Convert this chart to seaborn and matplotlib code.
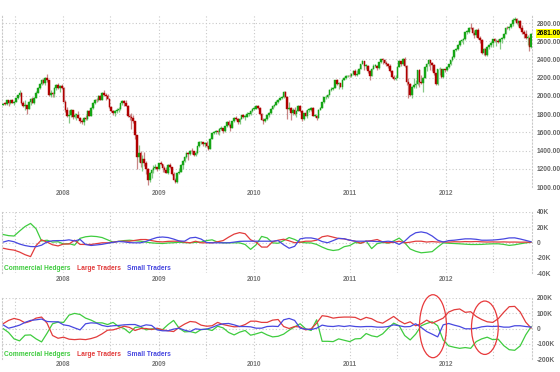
import numpy as np
import pandas as pd
import matplotlib
matplotlib.use("Agg")
import matplotlib.pyplot as plt
import matplotlib.dates as mdates
from matplotlib.patches import Ellipse
import seaborn as sns

# weekly candles, May 2007 - Nov 2012 (open = previous close)
first_open = 1905
close_2007 = [1915,1910,1950,1920,1955,1925,1934,1975,2010,2030,1925,1890,1900,1860,1935,1965,1925,1980,2035,2090,
              2135,2170,2140,2200,2170,2010,2030,2020,2085,2125,2085,2110,2090]
high_2007 = [1925,1930,1955,1960,1960,1965,1945,1980,2015,2060,2040,1945,1950,1905,1940,1975,1985,1985,2050,2095,
             2140,2185,2190,2210,2240,2175,2060,2040,2100,2135,2145,2120,2130]
low_2007 = [1895,1895,1905,1890,1915,1920,1905,1930,1965,2000,1915,1880,1850,1800,1855,1900,1920,1915,1975,2030,
            2080,2125,2135,2120,2150,2000,1990,1990,1990,2070,2080,2040,2080]

close_2008 = [1935,1850,1780,1795,1840,1770,1790,1790,1760,1720,1710,1760,1745,1830,1780,1870,1925,1960,1950,2000,
              1960,2035,2010,1995,1970,1880,1830,1815,1830,1840,1860,1920,1945,1920,1890,1780,1770,1760,1720,1570,
              1330,1370,1260,1305,1265,1200,1080,1155,1190,1205,1215,1200]
high_2008 = [2095,1950,1880,1840,1860,1845,1810,1805,1830,1770,1750,1770,1790,1840,1845,1875,1930,1970,1975,2010,
             2015,2040,2065,2030,2020,1975,1890,1850,1850,1870,1880,1925,1955,1950,1950,1895,1800,1810,1790,1725,
             1575,1460,1400,1350,1380,1290,1205,1160,1200,1240,1250,1225]
low_2008 = [1930,1820,1770,1700,1770,1750,1760,1740,1755,1700,1690,1680,1740,1740,1775,1775,1860,1915,1935,1945,
            1955,1955,2000,1960,1965,1870,1820,1790,1780,1810,1820,1840,1905,1890,1885,1770,1740,1640,1700,1530,
            1200,1270,1220,1180,1230,1140,1020,1060,1100,1150,1195,1180]

close_2009 = [1260,1250,1210,1185,1155,1240,1220,1145,1080,1050,1150,1170,1240,1290,1330,1370,1360,1400,1390,1355,
              1370,1445,1490,1490,1475,1485,1450,1420,1530,1590,1600,1610,1600,1640,1645,1610,1665,1715,1680,1650,
              1720,1755,1745,1715,1750,1790,1770,1770,1800,1800,1830,1860]
high_2009 = [1265,1290,1255,1230,1215,1250,1260,1225,1170,1100,1155,1210,1250,1300,1335,1380,1385,1410,1425,1400,
             1395,1450,1500,1505,1495,1495,1500,1455,1535,1595,1615,1625,1625,1645,1665,1650,1670,1725,1730,1700,
             1725,1770,1775,1760,1755,1795,1800,1790,1820,1815,1840,1865]
low_2009 = [1195,1240,1165,1160,1150,1140,1205,1135,1075,1040,1045,1140,1165,1200,1270,1320,1300,1350,1360,1340,
            1345,1360,1440,1470,1450,1440,1440,1405,1415,1525,1580,1585,1585,1570,1630,1590,1605,1660,1670,1620,
            1645,1715,1730,1690,1690,1745,1755,1730,1765,1780,1795,1825]

close_2010 = [1860,1890,1870,1800,1740,1720,1750,1790,1815,1860,1890,1900,1935,1960,1975,1985,2040,1990,1855,1870,
              1810,1840,1805,1835,1890,1835,1750,1810,1780,1845,1850,1870,1780,1780,1760,1850,1870,1930,1985,1990,
              2010,2070,2080,2090,2170,2130,2140,2100,2180,2200,2215,2220,2215]
high_2010 = [1885,1900,1905,1880,1810,1760,1760,1800,1820,1865,1895,1910,1950,1965,1985,2000,2050,2050,2000,1930,
             1880,1870,1880,1840,1900,1895,1840,1815,1850,1850,1870,1880,1875,1800,1790,1855,1880,1935,1990,2010,
             2020,2080,2095,2100,2180,2190,2150,2145,2185,2210,2225,2230,2235]
low_2010 = [1850,1855,1860,1790,1730,1690,1710,1740,1770,1805,1855,1880,1895,1925,1950,1965,1975,1985,1750,1845,
            1740,1790,1795,1770,1830,1825,1720,1740,1775,1760,1820,1835,1775,1765,1735,1755,1845,1865,1920,1965,
            1975,2005,2050,2060,2085,2120,2080,2095,2080,2170,2190,2205,2205]

close_2011 = [2240,2275,2230,2240,2300,2350,2380,2330,2330,2270,2220,2300,2330,2330,2310,2370,2400,2390,2360,2350,
              2330,2270,2210,2190,2200,2320,2380,2350,2410,2330,2150,2130,2010,2100,2120,2130,2280,2150,2140,2200,
              2320,2350,2390,2360,2340,2250,2130,2290,2290,2210,2290,2280]
high_2011 = [2255,2280,2290,2280,2305,2355,2390,2385,2350,2335,2285,2305,2345,2350,2340,2375,2410,2420,2400,2380,
             2360,2350,2280,2230,2230,2325,2395,2385,2420,2430,2340,2200,2140,2105,2200,2170,2285,2290,2230,2210,
             2325,2360,2410,2395,2370,2350,2255,2300,2320,2295,2295,2300]
low_2011 = [2210,2230,2215,2220,2235,2295,2345,2280,2290,2250,2180,2215,2295,2315,2280,2290,2365,2350,2345,2330,
            2310,2260,2200,2170,2170,2195,2315,2330,2340,2320,2120,1980,2000,1980,2090,2090,2120,2100,2135,2040,
            2195,2270,2330,2280,2270,2230,2125,2125,2230,2200,2200,2265]

close_2012 = [2320,2350,2390,2430,2500,2520,2560,2600,2610,2620,2700,2700,2750,2740,2690,2670,2720,2640,2610,2470,
              2510,2450,2540,2560,2580,2620,2600,2600,2590,2620,2640,2680,2750,2740,2760,2790,2830,2840,2800,2820,
              2740,2700,2680,2640,2640,2540,2681]
high_2012 = [2330,2355,2395,2440,2505,2530,2570,2610,2620,2640,2705,2720,2755,2795,2760,2720,2730,2740,2660,2620,
             2525,2530,2550,2575,2600,2625,2640,2620,2630,2630,2650,2690,2755,2770,2770,2800,2850,2870,2850,2830,
             2830,2780,2720,2720,2670,2645,2685]
low_2012 = [2270,2310,2340,2380,2420,2490,2500,2550,2590,2570,2615,2680,2690,2730,2670,2640,2650,2630,2580,2460,
            2445,2440,2440,2510,2540,2540,2590,2550,2580,2520,2580,2630,2675,2730,2720,2740,2770,2820,2790,2770,
            2730,2680,2640,2630,2560,2490,2530]

close = close_2007 + close_2008 + close_2009 + close_2010 + close_2011 + close_2012
high = high_2007 + high_2008 + high_2009 + high_2010 + high_2011 + high_2012
low = low_2007 + low_2008 + low_2009 + low_2010 + low_2011 + low_2012
last_price = 2681.00

# COT net positions, sampled every 3rd week (thousands of contracts)
mid_green = [10.5,9,8.5,15,21,25,18,2,3,0.5, 1,-2,-1.5,-3.5,5.5,7.5,8.3,7.8,6.5,3.5,
             0.5,1.5,2.5,3,2.3,1.7,0.5,-0.5,-1,-1.3, -0.6,-0.3,0.3,-0.2,-0.4,0.2,0.6,2.5,3.5,0.5,
             -0.4,-0.4,-0.4,-0.5,-2.6,-9,-3,8,6,-0.5, -1,2.5,6.5,4,0.4,-0.4,-0.6,-2.5,-6,-9,
             -10.5,-9.5,-5.5,-4,0,-1,2,-8,-1.5,0, -0.8,2,5.8,-0.4,-8.5,-11.5,-13.5,-12.8,-12,-6,
             -0.5,-1,-1.3,-1.7,-2.2,-2.6,-2.6,-2.5,-2,-1.7, -1.7,-2.5,-3.8,-3,-1.7,-0.5,0.4]
mid_red = [-7.5,-9,-10,-12.5,-16,-18.5,-4,3.5,0.5,-3, -4.5,-2,-2,3,-2.5,-2.6,-2.6,-1.5,-0.4,-0.4,
           0.4,1.5,1.7,1.7,2.8,3.9,3.9,2.5,1.2,0.8, 1.5,1.7,1.7,0.5,-0.4,1.7,-0.4,-0.4,-0.4,1,
           2.5,7,11,13,11.5,3.5,0.5,-6,-6,1, 3,4.3,2.2,-0.3,0.4,1.7,1.7,3,7.5,8.8,
           7,5.2,4.8,3,1.7,-1,1.7,2.5,3.9,0.8, -0.3,0.2,1.7,-0.4,0.4,1.7,1.7,0.6,1.2,0.6,
           0.8,0.5,1.0,0.8,1.2,1.0,1.3,0.9,0.6,0.8, 0.6,0.8,0.5,0.6,0.4,0.5,0.4]
mid_blue = [0.5,2.5,1,-2,-4,-5.3,-5.5,-3.5,0.8,2.3, 2.5,2.5,3.5,2,4,-2.6,-3.9,-3.2,-2.4,-1,
            0.2,1.3,0.8,-0.2,-0.4,-0.4,1.5,4.3,6.6,7.2, 6.5,4.5,2,1.7,6,6.8,4.5,0,-0.4,-0.4,
            -0.4,-0.4,0.5,1.5,1.7,1.7,1.7,1.7,1.7,1.7, 2.5,-3,-7.5,-5,4.8,6,6,4.5,1.2,-0.3,
            2.5,5.5,4.9,3.1,1.7,1.7,1.7,1.7,1.2,1, 1.7,0.8,-2.5,1.7,8.5,12.8,13.9,12.5,8.5,3,
            0.6,2.5,3,3.9,4.8,4.8,4.2,3,3,3.2, 3.8,4.7,6,6.1,4.6,2.8,0.9]

bot_green = [0,-26,-68,-81,-44,-42,-68,-88,-31,31, 42,40,88,99,92,68,55,37,37,26,
             40,13,0,-29,7,11,-9,-2,-4,-7, 26,53,2,-22,-20,-29,-7,-4,-13,15,
             4,-26,-42,-24,-13,-44,-35,-24,-42,-55, -51,-37,-11,11,31,-2,-13,57,-84,-84,
             -86,-68,-77,-86,-68,-66,-33,-48,-55,-35, 2,35,18,-46,-75,-37,18,33,44,18,
             -75,-114,-123,-130,-125,-130,-86,-68,-57,-73, -70,-112,-139,-143,-114,-42,13]
bot_red = [31,53,66,57,37,48,68,75,35,-46, -64,-57,-70,-73,-70,-73,-66,-55,-35,-11,
           -9,2,15,7,-13,0,0,-7,2,-9, -15,-20,7,29,46,42,22,15,18,40,
           26,18,11,13,26,48,48,40,40,55, 59,13,0,13,10,-9,-2,35,84,79,
           68,73,75,75,73,57,73,64,44,35, 57,79,51,31,44,18,31,55,35,51,
           68,108,123,128,106,110,79,59,44,40, 64,106,143,145,108,42,2]
bot_blue = [24,2,11,22,40,53,57,62,46,44, 44,24,18,4,-9,31,37,35,20,13,
            18,20,24,26,26,13,24,20,-9,-15, -15,-4,2,-11,-20,-2,-7,-4,7,22,
            31,33,24,13,13,11,2,2,13,15, 13,57,66,53,2,-4,-7,2,22,15,
            13,18,13,18,13,11,13,13,9,9, 13,24,18,11,13,31,7,-20,-37,-55,
            24,33,22,13,-2,-2,2,11,15,13, 15,9,9,18,18,13,9]

groups = ["Commercial Hedgers", "Large Traders", "Small Traders"]
palette = {"Commercial Hedgers": "#3fcc3f", "Large Traders": "#e23c3c", "Small Traders": "#4848e0"}

year_ticks = ["2008-01-01", "2009-01-01", "2010-01-01", "2011-01-01", "2012-01-01"]
year_labels = ["2008", "2009", "2010", "2011", "2012"]
half_ticks = ["2007-07-01", "2008-07-01", "2009-07-01", "2010-07-01", "2011-07-01", "2012-07-01"]

price_ticks = [1000, 1200, 1400, 1600, 1800, 2000, 2200, 2400, 2600, 2800]
mid_ticks = [-40, -20, 0, 20, 40]
mid_labels = ["-40K", "-20K", "0", "20K", "40K"]
bot_ticks = [-200, -100, 0, 100, 200]
bot_labels = ["-200K", "-100K", "0", "100K", "200K"]

# circled areas on the bottom panel: (center date, center value, width days, height K)
circles = [("2011-11-14", 15, 103, 413), ("2012-05-30", 5, 102, 350)]

week_dates = pd.date_range("2007-05-18", periods=len(close), freq="7D")
cot_dates = week_dates[::3]

sns.set_style("white")
plt.rcParams['font.family'] = ['Liberation Sans', 'DejaVu Sans']

W, H = 560, 372
fig = plt.figure(figsize=(W / 100, H / 100), dpi=100)
fig.patch.set_facecolor("white")


def px_axes(x0, y0, x1, y1):
    return fig.add_axes([x0 / W, 1 - y1 / H, (x1 - x0) / W, (y1 - y0) / H])


ax_top = px_axes(2, 15, 532, 187)
ax_mid = px_axes(2, 212, 532, 273)
ax_bot = px_axes(2, 298, 532, 359)

grid_kw = dict(color="#c9c9c9", linestyle=(0, (1, 2)), linewidth=0.8)
xlim = mdates.date2num(pd.to_datetime(["2007-05-14", "2012-11-26"]))

for ax in [ax_top, ax_mid, ax_bot]:
    ax.set_xlim(*xlim)
    ax.set_xticks(mdates.date2num(pd.to_datetime(year_ticks)))
    ax.set_xticklabels(year_labels)
    ax.set_xticks(mdates.date2num(pd.to_datetime(half_ticks)), minor=True)
    ax.grid(True, which="both", axis="x", **grid_kw)
    ax.grid(True, which="major", axis="y", **grid_kw)
    ax.set_axisbelow(True)
    for side in ["top", "bottom"]:
        ax.spines[side].set_visible(False)
    for side in ["left", "right"]:
        ax.spines[side].set_visible(True)
        ax.spines[side].set_color("#c9c9c9")
        ax.spines[side].set_linestyle((0, (1, 2)))
        ax.spines[side].set_linewidth(0.8)
    ax.yaxis.tick_right()
    ax.tick_params(axis="both", which="both", length=0)
    ax.tick_params(axis="x", pad=2.5, labelsize=4.7, labelcolor="#777777")
    ax.tick_params(axis="y", pad=3.2, labelsize=4.8, labelcolor="#666666")
    for lab in ax.get_xticklabels() + ax.get_yticklabels():
        lab.set_fontweight("bold")
    ax.set_xlabel("")
    ax.set_ylabel("")

# candles
xs = mdates.date2num(week_dates)
c = np.array(close, dtype=float)
o = np.array([first_open] + close[:-1], dtype=float)
up = c >= o
ax_top.vlines(xs, low, high, colors=np.where(up, "#86c986", "#c98686"), linewidth=0.9, zorder=2)
body_colors = np.where(up, "#15a515", "#b00000")
ax_top.bar(xs, np.maximum(np.abs(c - o), 8), bottom=np.minimum(o, c), width=6.2,
           color=body_colors, edgecolor=body_colors, linewidth=0.3, zorder=3)
ax_top.set_ylim(1000, 2888)
ax_top.set_yticks(price_ticks)
ax_top.set_yticklabels([f"{v:.2f}" for v in price_ticks], fontweight="bold")
ax_top.annotate(f"{last_price:.2f}", xy=(1, last_price), xycoords=("axes fraction", "data"),
                xytext=(3.3, 0), textcoords="offset points", va="center", ha="left",
                fontsize=4.8, fontweight="bold", color="black",
                bbox=dict(boxstyle="square,pad=0.15", fc="#ffff00", ec="none"), annotation_clip=False)


def cot_frame(green, red, blue):
    x = mdates.date2num(cot_dates)
    return pd.DataFrame({"x": np.tile(x, 3),
                         "net": np.concatenate([green, red, blue]),
                         "group": np.repeat(groups, len(x))})


sns.lineplot(data=cot_frame(mid_green, mid_red, mid_blue), x="x", y="net", hue="group",
             hue_order=groups, palette=palette, linewidth=0.9, legend=False, ax=ax_mid)
ax_mid.set_ylim(-40, 40)
ax_mid.set_yticks(mid_ticks)
ax_mid.set_yticklabels(mid_labels, fontweight="bold")

sns.lineplot(data=cot_frame(bot_green, bot_red, bot_blue), x="x", y="net", hue="group",
             hue_order=groups, palette=palette, linewidth=0.9, legend=False, ax=ax_bot)
ax_bot.set_ylim(-200, 200)
ax_bot.set_yticks(bot_ticks)
ax_bot.set_yticklabels(bot_labels, fontweight="bold")
ax_bot.tick_params(axis="x", pad=1.5)

for ax in [ax_mid, ax_bot]:
    ax.set_xlabel("")
    ax.set_ylabel("")

for date, val, wd, ht in circles:
    e = Ellipse((mdates.date2num(pd.Timestamp(date)), val), wd, ht, fill=False,
                edgecolor="#e8393b", linewidth=0.9, clip_on=False, zorder=5)
    ax_bot.add_patch(e)

# legend texts
legend_x = [4, 77, 127]
for y in [269, 354]:
    for name, x in zip(groups, legend_x):
        fig.text(x / W, 1 - y / H, name, color=palette[name], fontsize=4.8,
                 fontweight="bold", ha="left", va="center")

fig.savefig("out.png", dpi=100)
